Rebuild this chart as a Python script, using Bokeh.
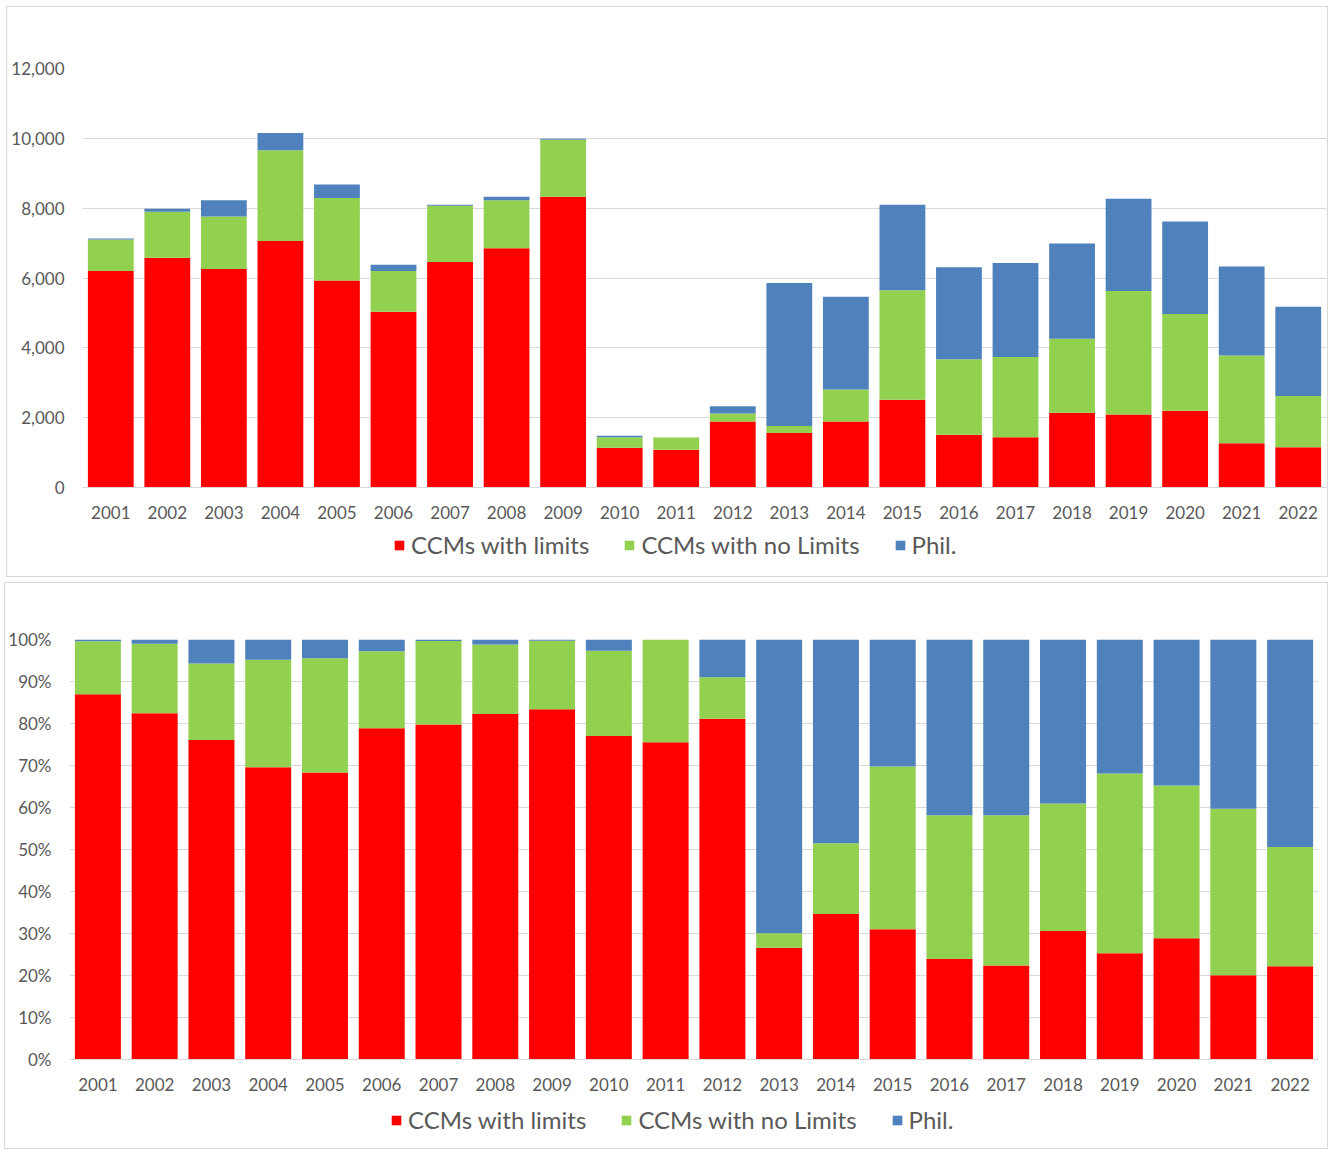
from bokeh.plotting import figure
from bokeh.models import (ColumnDataSource, FactorRange, Range1d, FixedTicker,
                          NumeralTickFormatter, Legend, LegendItem)
from bokeh.layouts import column, row
from bokeh.embed import file_html
from bokeh.resources import INLINE

# ---- data ----
years = [str(y) for y in range(2001, 2023)]
with_limits = [6200, 6580, 6260, 7060, 5930, 5030, 6460, 6850, 8330, 1140, 1080,
               1890, 1560, 1890, 2510, 1510, 1440, 2140, 2090, 2200, 1270, 1150]
no_limits = [900, 1320, 1500, 2600, 2360, 1170, 1610, 1380, 1630, 300, 350,
             230, 200, 920, 3140, 2160, 2300, 2120, 3540, 2770, 2510, 1470]
phil = [30, 80, 470, 490, 390, 180, 30, 100, 30, 40, 0,
        210, 4100, 2650, 2450, 2640, 2690, 2730, 2640, 2650, 2550, 2560]
series_names = ["CCMs with limits", "CCMs with no Limits", "Phil."]
count_ticks = [0, 2000, 4000, 6000, 8000, 10000, 12000]
share_ticks = [i / 10 for i in range(11)]

colors = ["#FF0000", "#92D050", "#4F81BD"]
FONT = "Lato"
TXT = "#595959"
GRID = "#D9D9D9"

totals = [a + b + c for a, b, c in zip(with_limits, no_limits, phil)]
share_with = [a / t for a, t in zip(with_limits, totals)]
share_no = [b / t for b, t in zip(no_limits, totals)]
share_phil = [c / t for c, t in zip(phil, totals)]


def make_chart(vals, ymax, ticks, fmt, width, height, bl, br, bt, data_px, leg_x, leg_y, margin):
    bb = 4
    frame_px = height - bt - bb
    extra_px = frame_px - data_px          # room under the baseline for labels/legend
    ystart = -ymax * extra_px / data_px
    src = ColumnDataSource(dict(year=years, s0=vals[0], s1=vals[1], s2=vals[2]))
    p = figure(x_range=FactorRange(*years, range_padding=0),
               y_range=Range1d(ystart, ymax),
               width=width, height=height, output_backend="svg",
               toolbar_location=None,
               min_border_left=bl, min_border_right=br,
               min_border_top=bt, min_border_bottom=bb, margin=margin)
    rs = p.vbar_stack(["s0", "s1", "s2"], x="year", width=0.81, source=src,
                      color=colors, line_color=None)
    p.outline_line_color = None
    p.background_fill_color = "white"
    p.border_fill_color = "white"
    p.xgrid.grid_line_color = None
    p.ygrid.grid_line_color = GRID
    p.ygrid.grid_line_width = 1
    p.yaxis.ticker = FixedTicker(ticks=ticks)
    p.yaxis.formatter = NumeralTickFormatter(format=fmt)
    p.yaxis.axis_line_color = None
    p.yaxis.major_tick_line_color = None
    p.yaxis.minor_tick_line_color = None
    p.yaxis.major_label_standoff = 12
    p.xaxis.fixed_location = 0
    p.xaxis.axis_line_color = GRID
    p.xaxis.major_tick_line_color = None
    p.xaxis.minor_tick_line_color = None
    p.xaxis.major_label_standoff = 12
    for ax in (p.xaxis, p.yaxis):
        ax.major_label_text_font = FONT
        ax.major_label_text_font_size = "17px"
        ax.major_label_text_color = TXT
    items = [LegendItem(label=n, renderers=[r]) for n, r in zip(series_names, rs)]
    leg = Legend(items=items, orientation="horizontal", location=(leg_x, leg_y),
                 label_text_font=FONT, label_text_font_size="24px",
                 label_text_color=TXT, glyph_width=12, glyph_height=12,
                 label_standoff=6, spacing=34, padding=0, margin=0,
                 border_line_color=None, background_fill_alpha=0)
    p.add_layout(leg, "center")
    p.styles = {"border": "1px solid #D9D9D9"}
    return p


top = make_chart([with_limits, no_limits, phil], 12000, count_ticks, "0,0",
                 1322, 571, 75, 3, 61, 419, 311, 15, (6, 0, 0, 6))
bottom = make_chart([share_with, share_no, share_phil], 1.0, share_ticks, "0%",
                    1324, 567, 63, 11, 56, 420, 321, 12, (5, 0, 0, 4))

layout = column(row(top), row(bottom), spacing=0)
open("out.html", "w").write(file_html(layout, INLINE))
